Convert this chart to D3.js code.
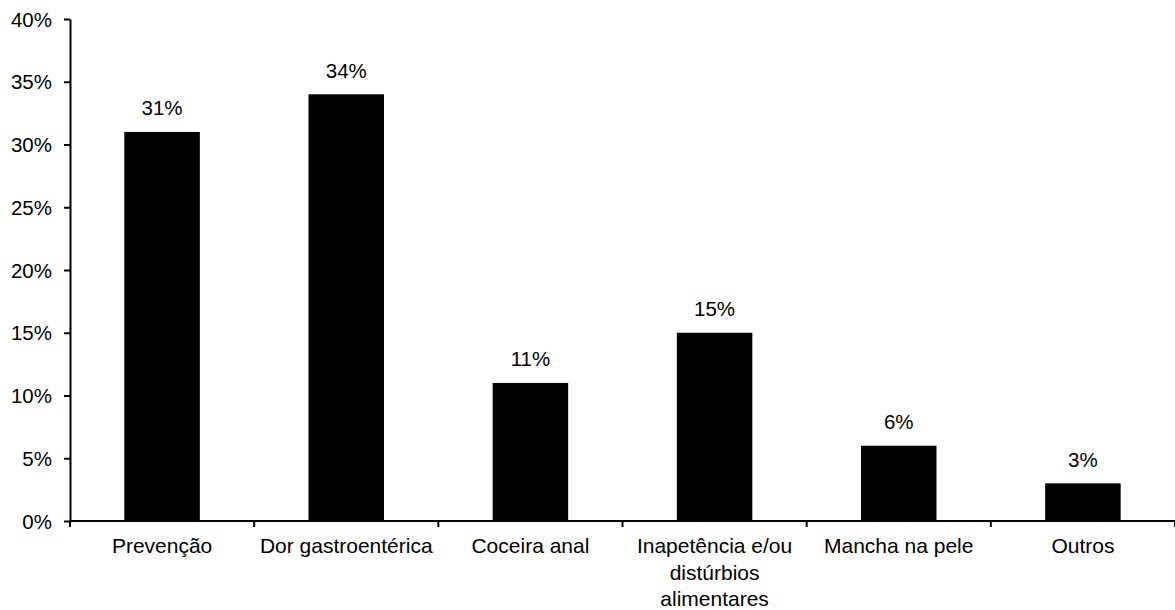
<!DOCTYPE html>
<html>
<head>
<meta charset="utf-8">
<script src="https://cdn.jsdelivr.net/npm/d3@7"></script>
<style>
  html, body { margin: 0; padding: 0; background: #fff; }
  svg text { font-family: "Liberation Sans", Arial, sans-serif; fill: #000; }
</style>
</head>
<body>
<svg id="chart" width="1175" height="610"></svg>
<script>
// Motivos da consulta (percentual de respostas)
const categories = [
  ["Prevenção"],
  ["Dor gastroentérica"],
  ["Coceira anal"],
  ["Inapetência e/ou", "distúrbios", "alimentares"],
  ["Mancha na pele"],
  ["Outros"]
];
const values = [31, 34, 11, 15, 6, 3];
const yTicks = [0, 5, 10, 15, 20, 25, 30, 35, 40];

const fontSize = "20.5px";
const catFontSize = "21px";
const margin = { top: 19, left: 70, right: 0, bottom: 89 };
const width = 1175, height = 610;
const svg = d3.select("#chart");

const keys = categories.map((c, i) => i);
const x = d3.scaleBand()
  .domain(keys)
  .range([margin.left, width - margin.right])
  .paddingInner(0.59)
  .paddingOuter(0.295);

const y = d3.scaleLinear()
  .domain([0, 40])
  .range([height - margin.bottom, margin.top]);

// Barras
svg.append("g")
  .selectAll("rect")
  .data(values)
  .join("rect")
  .attr("x", (d, i) => x(i))
  .attr("y", d => y(d))
  .attr("width", x.bandwidth())
  .attr("height", d => y(0) - y(d))
  .attr("fill", "#000");

// Rótulos de valor
svg.append("g")
  .selectAll("text")
  .data(values)
  .join("text")
  .attr("x", (d, i) => x(i) + x.bandwidth() / 2)
  .attr("y", d => y(d) - 16.5)
  .attr("text-anchor", "middle")
  .style("font-size", fontSize)
  .text(d => d + "%");

// Eixo Y
const yAxis = svg.append("g")
  .attr("transform", `translate(${margin.left},0)`)
  .call(d3.axisLeft(y).tickValues(yTicks).tickFormat(d => d + "%").tickSize(6).tickSizeOuter(0).tickPadding(12));
yAxis.select(".domain").attr("stroke", "#000").attr("stroke-width", 2);
yAxis.selectAll(".tick line").attr("stroke", "#000").attr("stroke-width", 2);
yAxis.selectAll(".tick text")
  .style("font-size", fontSize)
  .style("font-family", '"Liberation Sans", Arial, sans-serif')
  .attr("dy", "0.35em");

// Eixo X: marcas nas divisões entre categorias
const x0 = margin.left, x1 = width - margin.right;
const xg = svg.append("g");
xg.append("line")
  .attr("x1", x0).attr("x2", x1)
  .attr("y1", y(0)).attr("y2", y(0))
  .attr("stroke", "#000").attr("stroke-width", 2);
const dividers = d3.range(categories.length + 1).map(i => x0 + i * (x1 - x0) / categories.length);
xg.selectAll("line.div")
  .data(dividers)
  .join("line")
  .attr("class", "div")
  .attr("x1", d => d).attr("x2", d => d)
  .attr("y1", y(0)).attr("y2", y(0) + 6)
  .attr("stroke", "#000").attr("stroke-width", 2);

// Rótulos das categorias
const lab = svg.append("g")
  .selectAll("text")
  .data(categories)
  .join("text")
  .attr("x", (d, i) => x(i) + x.bandwidth() / 2)
  .attr("y", y(0) + 32)
  .attr("text-anchor", "middle")
  .style("font-size", catFontSize);
lab.selectAll("tspan")
  .data(d => d)
  .join("tspan")
  .attr("x", function() { return d3.select(this.parentNode).attr("x"); })
  .attr("dy", (d, i) => i === 0 ? 0 : 26.5)
  .text(d => d);
</script>
</body>
</html>
